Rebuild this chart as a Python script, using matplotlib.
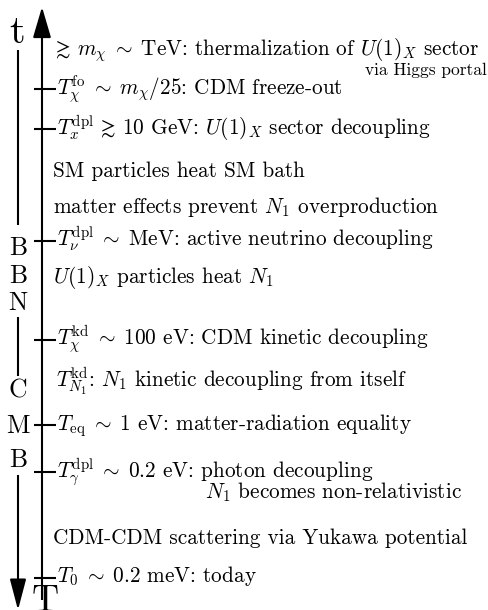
import matplotlib
matplotlib.use("Agg")
import matplotlib.pyplot as plt

plt.rcParams['font.family'] = ['cmr10', 'DejaVu Serif']
plt.rcParams['mathtext.fontset'] = 'cm'
plt.rcParams['axes.formatter.use_mathtext'] = True

# events along the history line (top = early / hot, bottom = today)
labels = [
    r"$\gtrsim\, m_\chi \;\sim\;$TeV: thermalization of $U(1)_X$ sector",
    r"$T_\chi^{\mathrm{fo}} \;\sim\; m_\chi/25$: CDM freeze-out",
    r"$T_x^{\mathrm{dpl}} \,\gtrsim\, 10$ GeV: $U(1)_X$ sector decoupling",
    "SM particles heat SM bath",
    r"matter effects prevent $N_1$ overproduction",
    r"$T_\nu^{\mathrm{dpl}} \;\sim\;$MeV: active neutrino decoupling",
    r"$U(1)_X$ particles heat $N_1$",
    r"$T_\chi^{\mathrm{kd}} \;\sim\; 100$ eV: CDM kinetic decoupling",
    r"$T_{N_1}^{\mathrm{kd}}$: $N_1$ kinetic decoupling from itself",
    r"$T_{\mathrm{eq}} \;\sim\; 1$ eV: matter-radiation equality",
    r"$T_\gamma^{\mathrm{dpl}} \;\sim\; 0.2$ eV: photon decoupling",
    "CDM-CDM scattering via Yukawa potential",
    r"$T_0 \;\sim\; 0.2$ meV: today",
]
label_y = [55, 95, 135, 177, 213, 246, 283, 345, 387, 430, 477, 544, 582]
label_x = [52, 57, 57, 53, 53, 57, 53, 57, 56, 57, 57, 53, 57]
tick_y = [89, 129, 241, 340, 425, 472, 578]

# secondary notes
notes = ["via Higgs portal", r"$N_1$ becomes non-relativistic"]
note_y = [75, 498]

# epochs on the left line
epoch_letters = ["B", "B", "N", "C", "M", "B"]
epoch_y = [255, 283, 310, 398, 433, 467]

fig = plt.figure(figsize=(4.89, 6.10), dpi=100)
ax = fig.add_axes([0, 0, 1, 1])
ax.set_xlim(0, 489)
ax.set_ylim(610, 0)
ax.axis('off')

# main arrow (time flows up)
ax.plot([42, 42], [600, 25], color='k', lw=1.5, solid_capstyle='butt')
ax.annotate('', xy=(42, 7), xytext=(42, 30),
            arrowprops=dict(arrowstyle='-|>,head_length=0.95,head_width=0.28',
                            color='k', lw=1.5, mutation_scale=20,
                            shrinkA=0, shrinkB=0))
for y in tick_y:
    ax.plot([34, 56], [y, y], color='k', lw=1.5, solid_capstyle='butt')

for txt, x, y in zip(labels, label_x, label_y):
    ax.text(x, y, txt, fontsize=15.3, ha='left', va='baseline')

ax.text(487, note_y[0], notes[0], fontsize=12.5, ha='right', va='baseline')
ax.text(205, note_y[1], notes[1], fontsize=15.3, ha='left', va='baseline')

# left line (temperature flows down)
ax.plot([18, 18], [50, 225], color='k', lw=1.5, solid_capstyle='butt')
ax.plot([18, 18], [317, 376], color='k', lw=1.5, solid_capstyle='butt')
ax.plot([18, 18], [475, 590], color='k', lw=1.5, solid_capstyle='butt')
ax.annotate('', xy=(18, 610), xytext=(18, 585),
            arrowprops=dict(arrowstyle='-|>,head_length=0.95,head_width=0.25',
                            color='k', lw=1.5, mutation_scale=20,
                            shrinkA=0, shrinkB=0))
for letter, y in zip(epoch_letters, epoch_y):
    ax.text(18, y, letter, fontsize=18.5, ha='center', va='baseline')

ax.text(17.5, 43, "t", fontsize=29, ha='center', va='baseline')
ax.text(45, 611, "T", fontsize=27, ha='center', va='baseline')

fig.savefig("out.png", dpi=100)
